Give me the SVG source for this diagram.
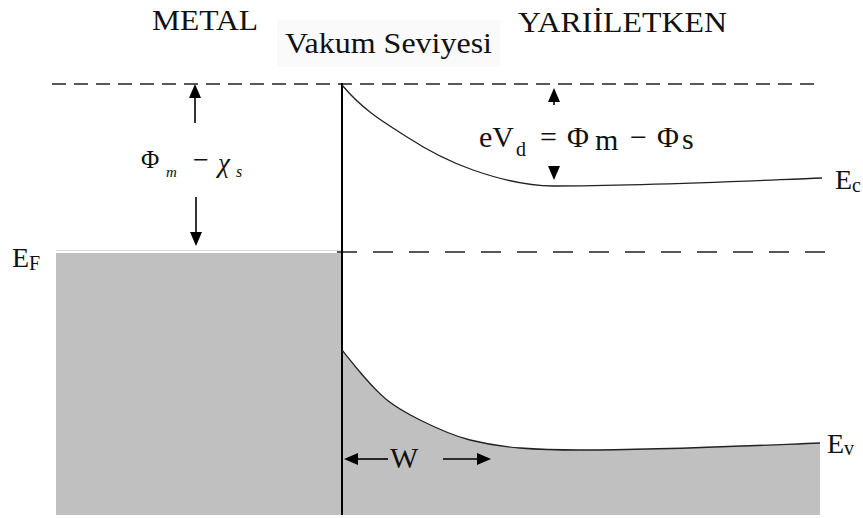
<svg xmlns="http://www.w3.org/2000/svg" width="863" height="518" viewBox="0 0 863 518">
<style>
text{font-family:"Liberation Serif","Times New Roman",serif;fill:#111}
.lbl{font-size:30px}
.band{fill:none;stroke:#222;stroke-width:1.3}
.shaft{stroke:#000;stroke-width:1.6}
.head{fill:#000}
</style>
<rect width="863" height="518" fill="#fff"/>
<g id="metal">
<rect x="56" y="253" width="286" height="262" fill="#c0c0c0"/>
<line x1="56" y1="250.5" x2="342" y2="250.5" stroke="#d6d6d6" stroke-width="1.2"/>
</g>
<g id="valence-fill">
<path d="M342,350 C357,368.75 372,388 387,400 C398,408.8 409,414.5 420,420 C436.7,428.3 453.3,435.8 470,440 C486.7,444.2 503.3,446.7 520,448 C540,449.6 560,450 580,450 C660,450 740,446.2 820,443 L820,515 L342,515 Z" fill="#c0c0c0"/>
</g>
<g id="connectors">
<line x1="52" y1="84" x2="820" y2="84" stroke="#222" stroke-width="1.3" stroke-dasharray="14 8"/>
<line x1="337" y1="252" x2="835" y2="252" stroke="#222" stroke-width="1.3" stroke-dasharray="20 16"/>
<line x1="342" y1="83" x2="342" y2="515" stroke="#000" stroke-width="2"/>
<path id="Ec" class="band" d="M342,85 C363.7,111 385.3,122.9 407,137 C429,151.3 451,162.3 473,170 C499.7,179.3 526.3,186 553,186 C642.7,186 732.3,181.6 822,178"/>
<path id="Ev" class="band" d="M342,350 C357,368.75 372,388 387,400 C398,408.8 409,414.5 420,420 C436.7,428.3 453.3,435.8 470,440 C486.7,444.2 503.3,446.7 520,448 C540,449.6 560,450 580,450 C660,450 740,446.2 820,443"/>
<line class="shaft" x1="195" y1="97" x2="195" y2="123"/>
<polygon class="head" points="195,84 189,98 201,98"/>
<line class="shaft" x1="196" y1="197" x2="196" y2="233"/>
<polygon class="head" points="196,246 190,232 202,232"/>
<line class="shaft" x1="554" y1="100" x2="554" y2="105"/>
<polygon class="head" points="554,88 548,102 560,102"/>
<polygon class="head" points="554,180 548,166 560,166"/>
<line class="shaft" x1="356" y1="459" x2="388" y2="459"/>
<polygon class="head" points="344,459 358,453 358,465"/>
<line class="shaft" x1="443" y1="459" x2="479" y2="459"/>
<polygon class="head" points="491,459 477,453 477,465"/>
</g>
<g id="title-metal"><text class="lbl" x="152" y="30" textLength="106" lengthAdjust="spacingAndGlyphs">METAL</text></g>
<g id="title-semi"><text class="lbl" x="518" y="32" textLength="209" lengthAdjust="spacingAndGlyphs">YARIİLETKEN</text></g>
<g id="vacuum-label">
<rect x="277" y="20" width="223" height="47" fill="#fafafa"/>
<text class="lbl" x="285" y="53" textLength="207" lengthAdjust="spacingAndGlyphs">Vakum Seviyesi</text>
</g>
<g id="label-phi-chi">
<text x="141" y="168" font-size="25">Φ</text>
<text x="166" y="177" font-size="15" font-style="italic">m</text>
<text x="193" y="169" font-size="28">−</text>
<text x="218" y="172" font-size="27" font-style="italic">χ</text>
<text x="236" y="177" font-size="16" font-style="italic">s</text>
</g>
<g id="label-eVd">
<text x="479" y="147" font-size="30">eV</text>
<text x="516" y="156" font-size="20">d</text>
<text x="540" y="147" font-size="30">=</text>
<text x="567" y="147" font-size="30">Φ</text>
<text x="595" y="150" font-size="30">m</text>
<text x="630" y="147" font-size="30">−</text>
<text x="657" y="147" font-size="30">Φ</text>
<text x="682" y="149" font-size="30">s</text>
</g>
<g id="label-EF"><text x="12" y="267" font-size="28">E<tspan font-size="20" dy="3">F</tspan></text></g>
<g id="label-Ec"><text x="835" y="189" font-size="28">E<tspan font-size="20" dy="3">c</tspan></text></g>
<g id="label-Ev"><text x="827" y="453" font-size="28">E<tspan font-size="20" dy="2">v</tspan></text></g>
<g id="label-W"><text x="390" y="468" font-size="30">W</text></g>
</svg>
